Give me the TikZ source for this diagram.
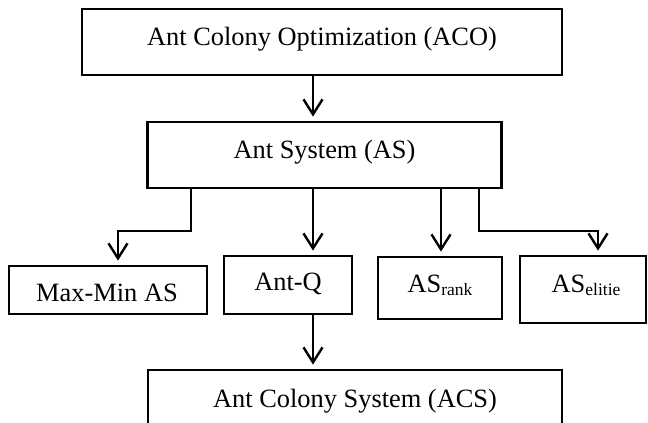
\documentclass[tikz,border=0pt]{standalone}
\usepackage{fontspec}
\setmainfont{Liberation Serif}
\usetikzlibrary{arrows.meta}
\tikzset{
  boxnode/.style={draw=black, line width=2.8pt, inner sep=0pt, rectangle},
  txt/.style={anchor=base, inner sep=0pt, font=\fontsize{26.4}{30}\selectfont},
  arr/.style={line width=2.4pt, -{Straight Barb[length=15pt,width=19pt]}, shorten >=4pt},
  seg/.style={line width=2.4pt}
}
\newcommand{\subtxt}[1]{\raisebox{-3pt}{\fontsize{17.5}{20}\selectfont #1}}
\begin{document}
\begin{tikzpicture}[x=1pt, y=-1pt]
\clip (0,0) rectangle (648,423);
\fill[white] (0,0) rectangle (648,423);
% boxes
\node[boxnode, minimum width=480pt, minimum height=66pt] (aco) at (322,42) {};
\node[boxnode, minimum width=354pt, minimum height=66pt] (as) at (324.5,155) {};
\node[boxnode, minimum width=198pt, minimum height=48pt] (mm) at (108,290) {};
\node[boxnode, minimum width=128pt, minimum height=58pt] (aq) at (288,285) {};
\node[boxnode, minimum width=124pt, minimum height=62pt] (rk) at (440,288) {};
\node[boxnode, minimum width=126pt, minimum height=67pt] (el) at (583,289.5) {};
\node[boxnode, minimum width=414pt, minimum height=56pt] (acs) at (355,398) {};
% texts
\node[txt] (acot) at (322,45) {Ant Colony Optimization (ACO)};
\node[txt] (ast) at (324.5,158) {Ant System (AS)};
\node[txt] (mmt) at (107,301) {Max-Min AS};
\node[txt] (aqt) at (288,290) {Ant-Q};
\node[txt] (rkt) at (440,292) {AS\subtxt{rank}};
\node[txt] (elt) at (586,292) {AS\subtxt{elitie}};
\node[txt] (acst) at (355,407) {Ant Colony System (ACS)};
% column coordinates
\coordinate (cmain) at (313,0);
\coordinate (b1) at (191,231);
\coordinate (c1) at (118,231);
\coordinate (crk) at (441,0);
\coordinate (b4) at (479,231);
\coordinate (c4) at (598,231);
% connectors
\draw[arr] (aco.south -| cmain) -- (as.north -| cmain);
\draw[arr] (as.south -| b1) -- (b1) -- (c1) -- (mm.north -| c1);
\draw[arr] (as.south -| cmain) -- (aq.north -| cmain);
\draw[arr] (as.south -| crk) -- (rk.north -| crk);
\draw[arr] (as.south -| b4) -- (b4) -- (c4) -- (el.north -| c4);
\draw[arr] (aq.south -| cmain) -- (acs.north -| cmain);
\end{tikzpicture}
\end{document}
